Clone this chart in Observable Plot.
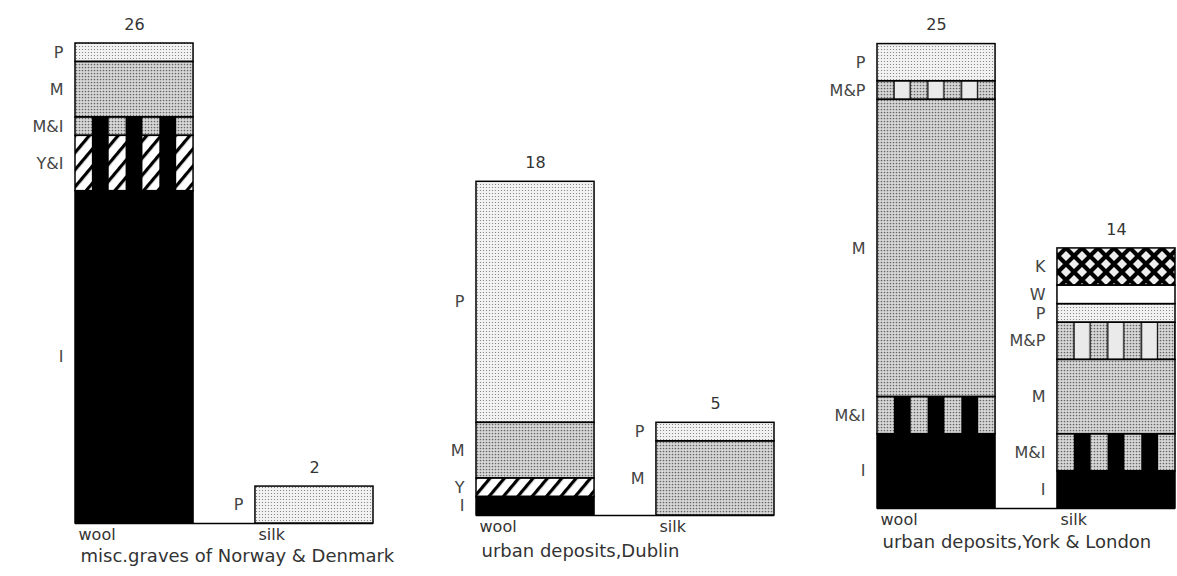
<!DOCTYPE html>
<html>
<head>
<meta charset="utf-8">
<script src="https://cdn.jsdelivr.net/npm/d3@7"></script>
<script src="https://cdn.jsdelivr.net/npm/@observablehq/plot@0.6"></script>
<style>
  html, body { margin: 0; padding: 0; background: #fff; }
  #row { display: flex; flex-direction: row; align-items: flex-start; width: 1177px; height: 576px; overflow: hidden; }
  #defs { position: absolute; left: 0; top: 0; width: 0; height: 0; }
</style>
</head>
<body>
<svg id="defs" width="0" height="0" aria-hidden="true">
  <defs>
    <pattern id="pM" width="3" height="3" patternUnits="userSpaceOnUse">
      <rect width="3" height="3" fill="#d8d8d8"/>
      <circle cx="1.5" cy="1.5" r="0.85" fill="#666"/>
    </pattern>
    <pattern id="pP" width="3" height="3" patternUnits="userSpaceOnUse">
      <rect width="3" height="3" fill="#f2f2f2"/>
      <circle cx="1.5" cy="1.5" r="0.6" fill="#777"/>
    </pattern>
    <pattern id="pY" width="11" height="11" patternUnits="userSpaceOnUse" patternTransform="rotate(40)">
      <rect width="11" height="11" fill="#fff"/>
      <rect width="3.2" height="11" fill="#000"/>
    </pattern>
    <pattern id="pK" width="16" height="16" patternUnits="userSpaceOnUse">
      <rect width="16" height="16" fill="#eeeeee"/>
      <path d="M-16,-16L32,32M-16,32L32,-16" stroke="#000" stroke-width="4.2"/>
    </pattern>
    <pattern id="sI" patternUnits="objectBoundingBox" patternContentUnits="objectBoundingBox" x="0" y="0" width="0.2857143" height="1">
      <rect x="0.1428571" y="0" width="0.1428572" height="1" fill="#000"/>
    </pattern>
    <pattern id="sMP" patternUnits="objectBoundingBox" patternContentUnits="objectBoundingBox" x="0" y="0" width="0.2857143" height="1">
      <rect x="0.1428571" y="0" width="0.1428572" height="1" fill="#eaeaea"/>
      <rect x="0.1378571" y="0" width="0.012" height="1" fill="#000"/>
      <rect x="0.2757143" y="0" width="0.012" height="1" fill="#000"/>
    </pattern>
  </defs>
</svg>
<div id="row"></div>
<script>
// ---- data ----
const groups = ["misc.graves of Norway & Denmark", "urban deposits,Dublin", "urban deposits,York & London"];
const kinds = ["wool", "silk"];

// segments listed bottom to top
const norwayWoolCats = ["I", "Y&I", "M&I", "M", "P"];
const norwayWoolValues = [18, 3, 1, 3, 1];
const norwaySilkCats = ["P"];
const norwaySilkValues = [2];

const dublinWoolCats = ["I", "Y", "M", "P"];
const dublinWoolValues = [1, 1, 3, 13];
const dublinSilkCats = ["M", "P"];
const dublinSilkValues = [4, 1];

const yorkWoolCats = ["I", "M&I", "M", "M&P", "P"];
const yorkWoolValues = [4, 2, 16, 1, 2];
const yorkSilkCats = ["I", "M&I", "M", "M&P", "P", "W", "K"];
const yorkSilkValues = [2, 2, 4, 2, 1, 1, 2];

const stacks = [
  {group: groups[0], kind: "wool", cats: norwayWoolCats, values: norwayWoolValues},
  {group: groups[0], kind: "silk", cats: norwaySilkCats, values: norwaySilkValues},
  {group: groups[1], kind: "wool", cats: dublinWoolCats, values: dublinWoolValues},
  {group: groups[1], kind: "silk", cats: dublinSilkCats, values: dublinSilkValues},
  {group: groups[2], kind: "wool", cats: yorkWoolCats, values: yorkWoolValues},
  {group: groups[2], kind: "silk", cats: yorkSilkCats, values: yorkSilkValues}
];
const rows = stacks.flatMap(s => s.cats.map((c, i) => ({group: s.group, kind: s.kind, cat: c, value: s.values[i]})));
const totals = stacks.map(s => ({group: s.group, kind: s.kind, total: d3.sum(s.values)}));
const yMax = d3.max(totals, d => d.total);

// ---- styles ----
const baseFill = {"I": "#000", "Y&I": "url(#pY)", "M&I": "url(#pM)", "M": "url(#pM)", "P": "url(#pP)",
                  "M&P": "url(#pM)", "W": "#fff", "K": "url(#pK)", "Y": "url(#pY)"};
const overFill = {"Y&I": "url(#sI)", "M&I": "url(#sI)", "M&P": "url(#sMP)"};

const layout = [
  {width: 401, marginTop: 43, marginBottom: 53, captionDy: 38},
  {width: 401, marginTop: 33, marginBottom: 61, captionDy: 41},
  {width: 375, marginTop: 25, marginBottom: 68, captionDy: 39}
];
const frameW = 298;

const row = document.getElementById("row");
groups.forEach((g, gi) => {
  const L = layout[gi];
  const data = rows.filter(d => d.group === g);
  const tot = totals.filter(d => d.group === g);
  const chart = Plot.plot({
    width: L.width,
    height: 576,
    marginLeft: 75,
    marginRight: L.width - 75 - frameW,
    marginTop: L.marginTop,
    marginBottom: L.marginBottom,
    x: {domain: kinds, paddingInner: 0.344, paddingOuter: 0, round: false, axis: null},
    y: {domain: [0, yMax], axis: null},
    color: {type: "identity"},
    style: {fontFamily: "'DejaVu Sans', sans-serif", fontSize: "16px", color: "#333", background: "#fff", overflow: "visible"},
    marks: [
      Plot.ruleY([0], {stroke: "#000", strokeWidth: 1.5}),
      Plot.barY(data, Plot.stackY({x: "kind", y: "value", fill: d => baseFill[d.cat]})),
      Plot.barY(data, Plot.stackY({x: "kind", y: "value", fill: d => overFill[d.cat] ?? "none"})),
      Plot.barY(data, Plot.stackY({x: "kind", y: "value", fill: "none", stroke: "#000", strokeWidth: 1.5})),
      Plot.text(data, Plot.stackY({x: "kind", y: "value", text: "cat", textAnchor: "end", dx: -71, fontSize: 16, fill: "#444"})),
      Plot.text(tot, {x: "kind", y: "total", text: d => String(d.total), dy: -19, fontSize: 16, fill: "#333"}),
      Plot.text(kinds, {x: d => d, frameAnchor: "bottom", dy: 16, dx: -56, textAnchor: "start", fontSize: 16, fill: "#333"}),
      Plot.text([g], {frameAnchor: "bottom-left", dy: L.captionDy, dx: 5, textAnchor: "start", fontSize: 18, fill: "#333"})
    ]
  });
  row.appendChild(chart);
});
</script>
</body>
</html>
